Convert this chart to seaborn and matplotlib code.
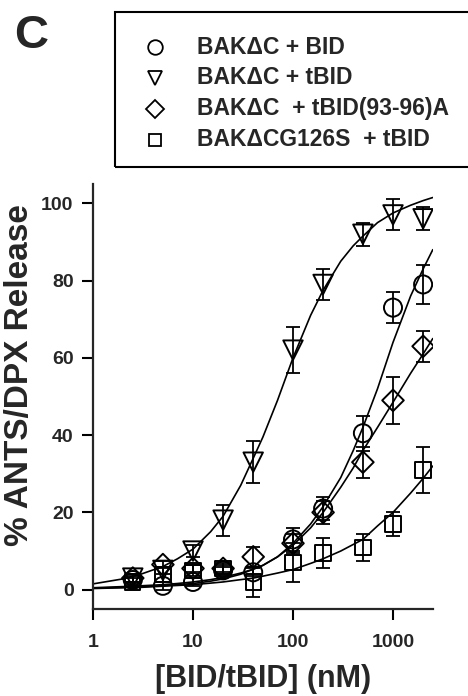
import matplotlib
matplotlib.use("Agg")
import matplotlib.pyplot as plt
import seaborn as sns
import pandas as pd
from matplotlib.lines import Line2D
from matplotlib.patches import Rectangle

# ---------------- data ----------------
conc = [2.5, 5, 10, 20, 40, 100, 200, 500, 1000, 2000]

bid_y   = [2.5, 1.0, 2.0, 5.0, 4.5, 13, 21, 40.5, 73, 79]
bid_err = [1.0, 1.0, 1.0, 1.0, 1.0, 3, 3, 4.5, 4, 5]

tbid_y   = [3.0, 5.0, 10, 18, 33, 62, 79, 92, 97, 96]
tbid_err = [1.0, 1.0, 1.5, 4, 5.5, 6, 4, 3, 4, 3]

mut_y   = [3.0, 6.5, 5.5, 5.5, 8.5, 12, 20, 33, 49, 63]
mut_err = [1.0, 1.0, 1.0, 1.0, 2.5, 2.5, 3, 4, 6, 4]

g126_y   = [2.0, 4.0, 5.0, 5.5, 2.0, 7, 9.5, 11, 17, 31]
g126_err = [1.0, 2.0, 1.5, 1.5, 4.0, 5, 4, 3.5, 3, 6]

curve_x = [1, 2, 3, 5, 7, 10, 15, 20, 30, 40, 50, 70, 100, 150, 200, 300, 400,
           500, 700, 1000, 1500, 2000, 2500]
tbid_fit = [1.5, 2.8, 4.0, 6.0, 8.0, 10.5, 15, 19, 27, 34, 39.5, 49, 60, 71, 77.5,
            85, 89, 91.5, 95, 97.5, 99.5, 100.7, 101.5]
bid_fit  = [0.4, 0.6, 0.8, 1.0, 1.3, 1.6, 2.2, 2.8, 4.0, 5.3, 6.3, 8.5, 12, 17,
            21.5, 29, 36, 42, 52, 64, 76, 83, 88]
mut_fit  = [0.5, 0.8, 1.0, 1.3, 1.6, 2.0, 2.6, 3.2, 4.3, 5.3, 6.3, 8.5, 11.5, 16,
            20, 26.5, 31.5, 36, 42, 48.5, 56, 61, 65]
g126_fit = [0.3, 0.5, 0.6, 0.9, 1.1, 1.3, 1.7, 2.0, 2.6, 3.0, 3.5, 4.3, 5.2, 6.8,
            8.0, 10, 11.7, 13, 16.5, 20, 25, 28.8, 32]

labels = ["BAK\u0394C + BID", "BAK\u0394C + tBID",
          "BAK\u0394C  + tBID(93-96)A", "BAK\u0394CG126S  + tBID"]
xticks = [1, 10, 100, 1000]
xtick_labels = ["1", "10", "100", "1000"]
yticks = [0, 20, 40, 60, 80, 100]

# ---------------- style ----------------
sns.set_style("ticks")
plt.rcParams['font.family'] = ['Liberation Sans', 'DejaVu Sans']
plt.rcParams['font.weight'] = 'bold'

fig = plt.figure(figsize=(4.68, 6.96), dpi=100)
ax = fig.add_axes([93/468, 1-609/696, (433-93)/468, (609-184)/696])

series = [
    (bid_y, bid_err, bid_fit, 'o', 13),
    (tbid_y, tbid_err, tbid_fit, 'v', 14),
    (mut_y, mut_err, mut_fit, 'D', 11),
    (g126_y, g126_err, g126_fit, 's', 11),
]

for yv, ev, fit, mk, ms in series:
    dfit = pd.DataFrame({'x': curve_x, 'y': fit})
    sns.lineplot(data=dfit, x='x', y='y', ax=ax, color='black', lw=1.2,
                 estimator=None, sort=False, zorder=2)
    ax.errorbar(conc, yv, yerr=ev, fmt='none', ecolor='black', elinewidth=1.3,
                capsize=5, capthick=1.3, zorder=3)
    d = pd.DataFrame({'x': conc, 'y': yv})
    sns.scatterplot(data=d, x='x', y='y', ax=ax, marker=mk, s=ms**2,
                    facecolors='none', edgecolor='black', linewidth=1.4, zorder=4)

ax.set_xscale('log')
ax.set_xlim(1, 2512)
ax.set_ylim(-5, 105)
ax.set_xticks(xticks)
ax.set_xticklabels(xtick_labels)
ax.xaxis.set_minor_locator(matplotlib.ticker.NullLocator())
ax.set_yticks(yticks)
for lab in ax.get_xticklabels() + ax.get_yticklabels():
    lab.set_fontweight('bold')
ax.tick_params(axis='both', labelsize=14, width=1.5, length=8, color='black')
ax.tick_params(axis='x', pad=10)
ax.tick_params(axis='y', pad=6)
for sp in ['left', 'bottom']:
    ax.spines[sp].set_linewidth(1.6)
sns.despine(ax=ax)
ax.set_xlabel("[BID/tBID] (nM)", fontsize=22, fontweight='bold')
ax.set_ylabel("% ANTS/DPX Release", fontsize=24, fontweight='bold')
ax.xaxis.set_label_coords(0.5, -0.13)
ax.yaxis.set_label_coords(-0.17, 0.55)

# panel letter
fig.text(14/468, 1-48/696, "C", fontsize=34, fontweight='bold', va='baseline')

# legend box
fig.add_artist(Rectangle((115/468, 1-167/696), 400/468, 155/696,
                         transform=fig.transFigure, fill=False, lw=1.5,
                         edgecolor='black', clip_on=False))
rows = [47, 78, 109, 140]
lmk = [('o', 10.5), ('v', 10.5), ('D', 9), ('s', 9)]
for (mk, ms), lab, ry in zip(lmk, labels, rows):
    fig.add_artist(Line2D([155/468], [1-ry/696], marker=mk, markersize=ms,
                          mfc='none', mec='black', mew=1.3, ls='none',
                          transform=fig.transFigure))
    fig.text(197/468, 1-ry/696, lab, fontsize=16.5, fontweight='bold', va='center')

fig.savefig("out.png", dpi=100)
